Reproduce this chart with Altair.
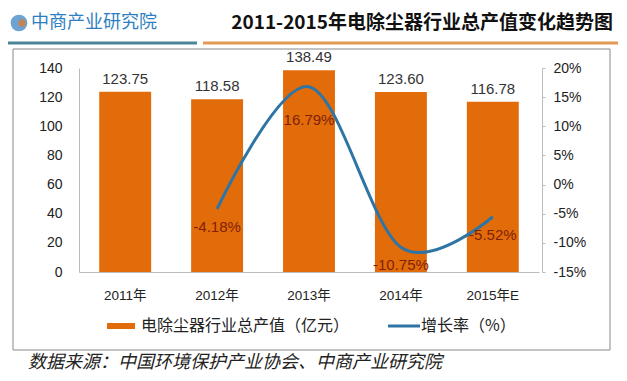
import altair as alt
import pandas as pd

years = ["2011年", "2012年", "2013年", "2014年", "2015年E"]
output_value = [123.75, 118.58, 138.49, 123.60, 116.78]
growth_years = ["2012年", "2013年", "2014年", "2015年E"]
growth_rate = [-4.18, 16.79, -10.75, -5.52]
left_ticks = [0, 20, 40, 60, 80, 100, 120, 140]
right_ticks = [-15, -10, -5, 0, 5, 10, 15, 20]

title_text = "2011-2015年电除尘器行业总产值变化趋势图"
logo_text = "中商产业研究院"
legend_bar = "电除尘器行业总产值（亿元）"
legend_line = "增长率（%）"
source_text = "数据来源：中国环境保护产业协会、中商产业研究院"

bars_df = pd.DataFrame({"year": years, "value": output_value,
                        "label": [f"{v:.2f}" for v in output_value]})
line_df = pd.DataFrame({"year": growth_years, "rate": growth_rate,
                        "label": [f"{v:.2f}%" for v in growth_rate]})
one = pd.DataFrame({"k": [0]})

NUM = "Liberation Sans, Noto Sans CJK SC"
CJK = "Noto Sans CJK SC"
ORANGE = "#e36c0a"
BLUE = "#2e75a6"

x_axis = alt.Axis(labelAngle=0, labelFont=NUM, labelFontSize=13.5, labelColor="#222",
                  labelPadding=16, ticks=False, domainColor="#bbb")
xenc = alt.X("year:N", sort=years, title=None,
             scale=alt.Scale(paddingInner=0.435, paddingOuter=0.22), axis=x_axis)

left_axis = alt.Axis(values=left_ticks, grid=False, ticks=False,
                     labelOverlap=False, labelBound=False,
                     labelFont=NUM, labelFontSize=14, labelColor="#222",
                     labelPadding=17, domainColor="#bbb")
right_axis = alt.Axis(orient="right", values=right_ticks, grid=False,
                      labelOverlap=False, labelBound=False,
                      labelExpr="datum.value + '%'", tickSize=3, tickColor="#bbb",
                      labelFont=NUM, labelFontSize=14, labelColor="#222",
                      labelPadding=8, offset=3, domainColor="#bbb")
yl = alt.Y("value:Q", title=None, scale=alt.Scale(domain=[0, 140]), axis=left_axis)
yr = alt.Y("rate:Q", title=None, scale=alt.Scale(domain=[-15, 20]), axis=right_axis)

bars = alt.Chart(bars_df).mark_bar(color=ORANGE).encode(x=xenc, y=yl)
bar_text = alt.Chart(bars_df).mark_text(font=NUM, fontSize=15, color="#333", dy=-13).encode(
    x=xenc, y=yl, text="label:N")

line = alt.Chart(line_df).mark_line(color=BLUE, strokeWidth=3, interpolate="cardinal").encode(
    x=xenc, y=yr)
line_text = alt.Chart(line_df).transform_filter("datum.rate < 10").mark_text(
    font=NUM, fontSize=15, color="#7f2208", dy=18).encode(x=xenc, y=yr, text="label:N")
line_text_peak = alt.Chart(line_df).transform_filter("datum.rate >= 10").mark_text(
    font=NUM, fontSize=15, color="#7f2208", dy=33).encode(x=xenc, y=yr, text="label:N")

left_layer = alt.layer(bars, bar_text)
right_layer = alt.layer(line, line_text, line_text_peak)

# decorations (header, frame, legend, source)
frame = alt.Chart(one).mark_rect(fill=None, stroke="#888", strokeWidth=1).encode(
    x=alt.value(-66), x2=alt.value(531), y=alt.value(-19), y2=alt.value(282))
rule_blue = alt.Chart(one).mark_rule(color="#4b8597", strokeWidth=3).encode(
    x=alt.value(-74), x2=alt.value(118), y=alt.value(-25))
rule_orange = alt.Chart(one).mark_rule(color="#e39a55", strokeWidth=3).encode(
    x=alt.value(124), x2=alt.value(539), y=alt.value(-25))
title = alt.Chart(one).mark_text(font=CJK, fontSize=19, fontWeight="bold", color="#111",
                                 align="right", baseline="middle").encode(
    x=alt.value(534), y=alt.value(-45), text=alt.value(title_text))
logo_circle = alt.Chart(one).mark_point(shape="circle", filled=True, size=280, color="#2e7fc1").encode(
    x=alt.value(-60), y=alt.value(-45))
logo_dot = alt.Chart(one).mark_point(shape="circle", filled=True, size=60, color="#e0792b").encode(
    x=alt.value(-57), y=alt.value(-45))
logo = alt.Chart(one).mark_text(font=CJK, fontSize=18, color="#2e7fc1",
                                align="left", baseline="middle").encode(
    x=alt.value(-48), y=alt.value(-45), text=alt.value(logo_text))
leg_bar = alt.Chart(one).mark_rect(color=ORANGE).encode(
    x=alt.value(28), x2=alt.value(56), y=alt.value(255), y2=alt.value(261))
leg_bar_t = alt.Chart(one).mark_text(font=CJK, fontSize=16, color="#222", align="left",
                                     baseline="middle").encode(
    x=alt.value(62), y=alt.value(258), text=alt.value(legend_bar))
leg_line = alt.Chart(one).mark_rule(color=BLUE, strokeWidth=3).encode(
    x=alt.value(309), x2=alt.value(341), y=alt.value(258))
leg_line_t = alt.Chart(one).mark_text(font=CJK, fontSize=16, color="#222", align="left",
                                      baseline="middle").encode(
    x=alt.value(342), y=alt.value(258), text=alt.value(legend_line))
source = alt.Chart(one).mark_text(font=CJK, fontSize=18, fontStyle="italic", color="#222",
                                  align="left", baseline="middle").encode(
    x=alt.value(-51), y=alt.value(295), text=alt.value(source_text))

deco = alt.layer(frame, rule_blue, rule_orange, title, logo_circle, logo_dot, logo,
                 leg_bar, leg_bar_t, leg_line, leg_line_t, source)

chart = alt.layer(left_layer, right_layer, deco).resolve_scale(y="independent").properties(
    width=460, height=204,
    autosize=alt.AutoSizeParams(type="none"),
    padding={"left": 71, "top": 60, "right": 80, "bottom": 101},
    background="white",
).configure_view(stroke=None).configure_axis(labelOverlap=False)

chart.save("out.html", embed_options={"renderer": "svg", "actions": False})
